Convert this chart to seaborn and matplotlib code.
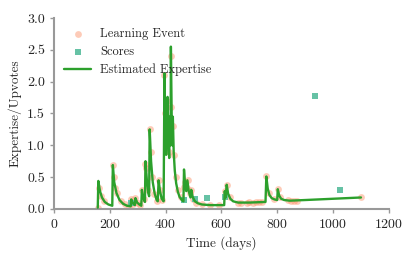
import pandas as pd
import matplotlib.pyplot as plt
import seaborn as sns

# Estimated expertise curve (day, value)
line_days = [157, 159, 165, 172, 182, 195, 209, 211, 216, 224, 235, 248, 262, 275,
             277, 283, 290, 292, 298, 306, 313, 315, 320, 326, 328, 333, 338, 341,
             343, 348, 354, 361, 368, 372, 375, 380, 386, 393, 396, 399, 402, 404,
             407, 410, 413, 415, 418, 419, 422, 424, 426, 429, 433, 438, 444, 450,
             458, 464, 466, 470, 474, 478, 483, 489, 492, 497, 505, 515, 530, 560,
             610, 612, 615, 619, 624, 632, 642, 660, 700, 758, 761, 766, 772, 780,
             790, 800, 802, 807, 814, 825, 845, 900, 1000, 1100]
line_vals = [0.02, 0.44, 0.28, 0.18, 0.11, 0.07, 0.05, 0.69, 0.42, 0.25, 0.14, 0.08, 0.05, 0.04,
             0.15, 0.09, 0.06, 0.17, 0.10, 0.07, 0.05, 0.30, 0.18, 0.11, 0.75, 0.45, 0.25, 0.20,
             1.25, 0.75, 0.42, 0.24, 0.14, 0.12, 0.45, 0.28, 0.16, 0.12, 2.13, 1.20, 0.85, 1.30,
             1.76, 1.05, 0.80, 1.45, 1.00, 2.55, 1.40, 1.00, 1.45, 0.90, 0.60, 0.40, 0.27, 0.19,
             0.14, 0.12, 0.62, 0.38, 0.28, 0.45, 0.28, 0.18, 0.30, 0.19, 0.12, 0.09, 0.07, 0.06,
             0.06, 0.28, 0.18, 0.38, 0.24, 0.16, 0.12, 0.10, 0.10, 0.11, 0.51, 0.32, 0.22, 0.17,
             0.15, 0.14, 0.31, 0.21, 0.16, 0.14, 0.13, 0.14, 0.16, 0.18]

# Learning events
event_days = [158, 163, 170, 178, 210, 214, 220, 226, 240, 255, 270, 277, 285, 292,
              300, 310, 315, 322, 328, 331, 336, 343, 347, 352, 360, 370, 375, 380,
              386, 395, 398, 404, 407, 412, 416, 419, 421, 426, 430, 436, 445, 455,
              466, 470, 476, 480, 486, 492, 500, 510, 530, 560, 590, 612, 619, 630,
              660, 670, 690, 700, 715, 725, 735, 745, 761, 770, 790, 802, 810, 840,
              850, 860, 870, 1100]
event_vals = [0.02, 0.33, 0.20, 0.13, 0.69, 0.50, 0.33, 0.25, 0.12, 0.07, 0.05, 0.15, 0.08, 0.17,
              0.09, 0.06, 0.30, 0.15, 0.70, 0.65, 0.30, 1.25, 0.90, 0.50, 0.24, 0.12, 0.45, 0.30,
              0.14, 2.10, 1.50, 1.70, 1.20, 0.90, 1.40, 2.40, 1.60, 1.30, 0.85, 0.50, 0.30, 0.18,
              0.35, 0.42, 0.33, 0.45, 0.25, 0.30, 0.15, 0.10, 0.07, 0.06, 0.06, 0.28, 0.38, 0.18,
              0.10, 0.10, 0.10, 0.11, 0.10, 0.11, 0.11, 0.11, 0.51, 0.25, 0.16, 0.31, 0.18, 0.14,
              0.13, 0.13, 0.13, 0.18]

# Scores
score_days = [276, 467, 505, 548, 614, 937, 1024]
score_vals = [0.09, 0.14, 0.15, 0.17, 0.18, 1.77, 0.30]

line_df = pd.DataFrame({"day": line_days, "value": line_vals})
event_df = pd.DataFrame({"day": event_days, "value": event_vals})
score_df = pd.DataFrame({"day": score_days, "value": score_vals})

sns.set_style("ticks")
plt.rcParams["font.family"] = ["cmr10", "DejaVu Serif"]
plt.rcParams["axes.formatter.use_mathtext"] = True
plt.rcParams["mathtext.fontset"] = "cm"

fig = plt.figure(figsize=(4.15, 2.57), dpi=100)
ax = fig.add_axes([0.130, 0.187, 0.807, 0.743])

set2 = sns.color_palette("Set2")
sns.scatterplot(x="day", y="value", data=event_df, ax=ax, color=set2[1], alpha=0.45,
                s=24, linewidth=0, label="Learning Event", zorder=2)
sns.scatterplot(x="day", y="value", data=score_df, ax=ax, color=set2[0], marker="s",
                s=24, linewidth=0, label="Scores", zorder=3)
sns.lineplot(x="day", y="value", data=line_df, ax=ax, color="#2ca02c", lw=1.7,
             sort=False, estimator=None, label="Estimated Expertise", zorder=4)

ax.set_xlim(0, 1200)
ax.set_ylim(0, 3.0)
ax.set_xticks([0, 200, 400, 600, 800, 1000, 1200])
ax.set_yticks([0.0, 0.5, 1.0, 1.5, 2.0, 2.5, 3.0])
ax.set_yticklabels(["0.0", "0.5", "1.0", "1.5", "2.0", "2.5", "3.0"])
ax.set_xlabel("Time (days)", fontsize=9.5)
ax.set_ylabel("Expertise/Upvotes", fontsize=9.5)
ax.tick_params(labelsize=10, color="#999999", length=3, width=1)
for side in ["left", "bottom"]:
    ax.spines[side].set_color("#999999")
    ax.spines[side].set_linewidth(1.5)
sns.despine(ax=ax)

ax.legend(loc="upper left", bbox_to_anchor=(0.0, 1.0), frameon=False, fontsize=9,
          labelspacing=0.45, handlelength=2.2, handletextpad=0.7, borderaxespad=0.4)

fig.savefig("out.png", dpi=100)
